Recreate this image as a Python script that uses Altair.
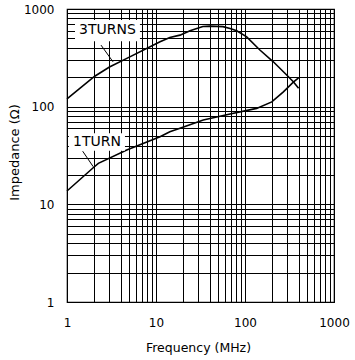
import altair as alt
import pandas as pd

# Curve data (frequency MHz, impedance ohm)
f3 = [1, 2.05, 3.0, 4.7, 11.1, 14.3, 18.6, 24.1, 33.6, 40.4, 56.6, 67.9, 80.7, 104.5, 147, 208, 294, 349, 400]
z3 = [120, 205, 255, 312, 462, 512, 540, 598, 662, 668, 660, 633, 598, 519, 380, 288, 211, 180, 154]

f1 = [1, 1.97, 2.25, 4.69, 11.1, 14.3, 18.6, 34, 67.9, 135, 200, 270, 349, 400]
z1 = [13.7, 23.7, 26.3, 36, 49.2, 55.4, 60, 72.9, 84, 96, 112, 142, 178, 197]

# Grid tick values (decades and minors)
grid_vals = [m * d for d in (1, 10, 100) for m in range(1, 10)] + [1000]

# Annotations
ann_text = ["3TURNS", "1TURN"]
ann_f = [2.85, 2.17]
ann_z = [608, 43.7]
box_f1 = [1.23, 1.05]
box_f2 = [6.6, 4.48]
box_z1 = [468, 35.3]
box_z2 = [770, 53.3]
lead_f1 = [2.41, 1.50]
lead_z1 = [427, 35.0]
lead_f2 = [3.29, 1.97]
lead_z2 = [288, 24.3]

curves = pd.DataFrame(
    {"f": f3 + f1, "z": z3 + z1, "s": ["3TURNS"] * len(f3) + ["1TURN"] * len(f1)}
)
ann = pd.DataFrame({
    "t": ann_text, "f": ann_f, "z": ann_z,
    "bf1": box_f1, "bf2": box_f2, "bz1": box_z1, "bz2": box_z2,
    "lf1": lead_f1, "lz1": lead_z1, "lf2": lead_f2, "lz2": lead_z2,
})

FONT = "DejaVu Sans"
label_expr = "(datum.value == 1 || datum.value == 10 || datum.value == 100 || datum.value == 1000) ? datum.label : ''"

xscale = alt.Scale(type="log", domain=[1, 1000], nice=False)
yscale = alt.Scale(type="log", domain=[1, 1000], nice=False)

xaxis = alt.Axis(
    values=grid_vals, format="d", labelExpr=label_expr, grid=True, gridColor="#000",
    gridOpacity=1, gridWidth=1, ticks=False, tickSize=0, domain=False,
    labelFont=FONT, labelFontSize=12, labelColor="#000", labelPadding=15,
    labelFlush=False, labelOverlap=False,
    title="Frequency (MHz)", titleFont=FONT, titleFontSize=12.5, titleFontWeight="normal",
    titleColor="#000", titleX=131, titleY=45, titleBaseline="middle", titleAnchor="start",
    titleAlign="center",
)
yaxis = alt.Axis(
    values=grid_vals, format="d", labelExpr=label_expr, grid=True, gridColor="#000",
    gridOpacity=1, gridWidth=1, ticks=False, tickSize=0, domain=False,
    labelFont=FONT, labelFontSize=12, labelColor="#000", labelPadding=13,
    labelFlush=False, labelOverlap=False,
    title="Impedance (Ω)", titleFont=FONT, titleFontSize=13, titleFontWeight="normal",
    titleColor="#000", titleX=-53, titleY=143, titleBaseline="middle", titleAngle=-90,
    titleAlign="center", titleAnchor="start",
)

lines = alt.Chart(curves).mark_line(color="#000", strokeWidth=1.6).encode(
    x=alt.X("f:Q", scale=xscale, axis=xaxis),
    y=alt.Y("z:Q", scale=yscale, axis=yaxis),
    detail="s:N",
)

boxes = alt.Chart(ann).mark_rect(color="white").encode(
    x=alt.X("bf1:Q", scale=xscale), x2="bf2:Q",
    y=alt.Y("bz1:Q", scale=yscale), y2="bz2:Q",
)

leaders = alt.Chart(ann).mark_rule(color="#000", strokeWidth=1).encode(
    x=alt.X("lf1:Q", scale=xscale), x2="lf2:Q",
    y=alt.Y("lz1:Q", scale=yscale), y2="lz2:Q",
)

texts = alt.Chart(ann).mark_text(font=FONT, fontSize=14, color="#000", align="center", baseline="middle").encode(
    x=alt.X("f:Q", scale=xscale),
    y=alt.Y("z:Q", scale=yscale),
    text="t:N",
)

chart = alt.layer(lines, boxes, leaders, texts).properties(
    width=267, height=293,
    autosize=alt.AutoSizeParams(type="none"),
    padding={"left": 67, "top": 9, "right": 21, "bottom": 58},
    background="white",
).configure_view(stroke="#000", strokeWidth=1.2)

chart.save("out.html", embed_options={"renderer": "svg", "actions": False})
